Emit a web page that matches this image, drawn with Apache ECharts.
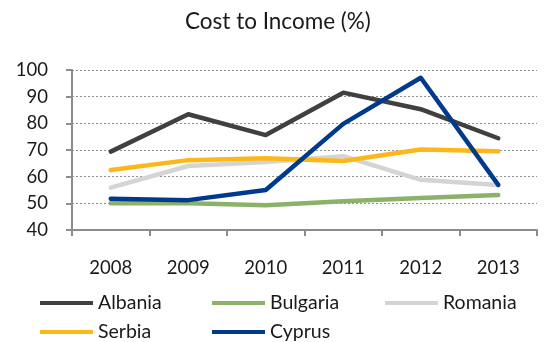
<!DOCTYPE html>
<html>
<head>
<meta charset="utf-8">
<script src="https://cdn.jsdelivr.net/npm/echarts@6/dist/echarts.min.js"></script>
<style>
  html, body { margin: 0; padding: 0; background: #fff; }
  #chart { width: 544px; height: 342px; }
</style>
</head>
<body>
<div id="chart"></div>
<script>
// Cost-to-income ratio by country, 2008-2013 (%)
const years = ['2008', '2009', '2010', '2011', '2012', '2013'];
const albania  = [69.4, 83.4, 75.6, 91.5, 85.3, 74.4];
const bulgaria = [50.0, 50.0, 49.3, 50.8, 52.0, 53.1];
const romania  = [55.9, 64.0, 65.5, 67.7, 58.8, 56.9];
const serbia   = [62.5, 66.2, 66.9, 65.9, 70.2, 69.5];
const cyprus   = [51.7, 51.2, 55.0, 79.8, 97.1, 56.9];

const FONT = 'Lato';
const colors = {
  Albania: '#404040',
  Bulgaria: '#8cb26a',
  Romania: '#d4d4d4',
  Serbia: '#fcb71a',
  Cyprus: '#003a8c'
};

const seriesDefs = [
  { name: 'Albania', data: albania },
  { name: 'Bulgaria', data: bulgaria },
  { name: 'Romania', data: romania },
  { name: 'Serbia', data: serbia },
  { name: 'Cyprus', data: cyprus }
];

// legend placement: two rows, three columns
const legendSlots = [
  { left: 40, top: 293 },
  { left: 212, top: 293 },
  { left: 385, top: 293 },
  { left: 40, top: 322 },
  { left: 212, top: 322 }
];

const chart = echarts.init(document.getElementById('chart'), null, { renderer: 'canvas' });

chart.setOption({
  animation: false,
  backgroundColor: '#ffffff',
  title: {
    text: 'Cost to Income (%)',
    left: 180,
    top: 5,
    textStyle: { fontFamily: FONT, fontSize: 22.5, fontWeight: 'normal', color: '#1a1a1a' }
  },
  legend: seriesDefs.map((s, i) => ({
    data: [s.name],
    left: legendSlots[i].left,
    top: legendSlots[i].top,
    icon: 'rect',
    itemWidth: 53,
    itemHeight: 4,
    padding: 0,
    textStyle: { fontFamily: FONT, fontSize: 19.5, color: '#1a1a1a' }
  })),
  grid: { left: 72, right: 7, top: 70, bottom: 112 },
  xAxis: {
    type: 'category',
    data: years,
    boundaryGap: true,
    axisLine: { lineStyle: { color: '#8c8c8c', width: 2 } },
    axisTick: { show: true, length: 6, lineStyle: { color: '#8c8c8c', width: 2 } },
    axisLabel: { margin: 29, fontFamily: FONT, fontSize: 18.5, color: '#1a1a1a' }
  },
  yAxis: {
    type: 'value',
    min: 40,
    max: 100,
    interval: 10,
    axisLine: { show: true, lineStyle: { color: '#8c8c8c', width: 2 } },
    axisTick: { show: true, length: 6, lineStyle: { color: '#8c8c8c', width: 2 } },
    axisLabel: { margin: 24, fontFamily: FONT, fontSize: 18.5, color: '#1a1a1a' },
    splitLine: { show: true, lineStyle: { color: '#8f8f8f', type: [2, 2], width: 1 } }
  },
  series: seriesDefs.map(s => ({
    name: s.name,
    type: 'line',
    data: s.data,
    symbol: 'none',
    color: colors[s.name],
    lineStyle: { width: 4.5, color: colors[s.name], cap: 'round', join: 'round' }
  }))
});
</script>
</body>
</html>
